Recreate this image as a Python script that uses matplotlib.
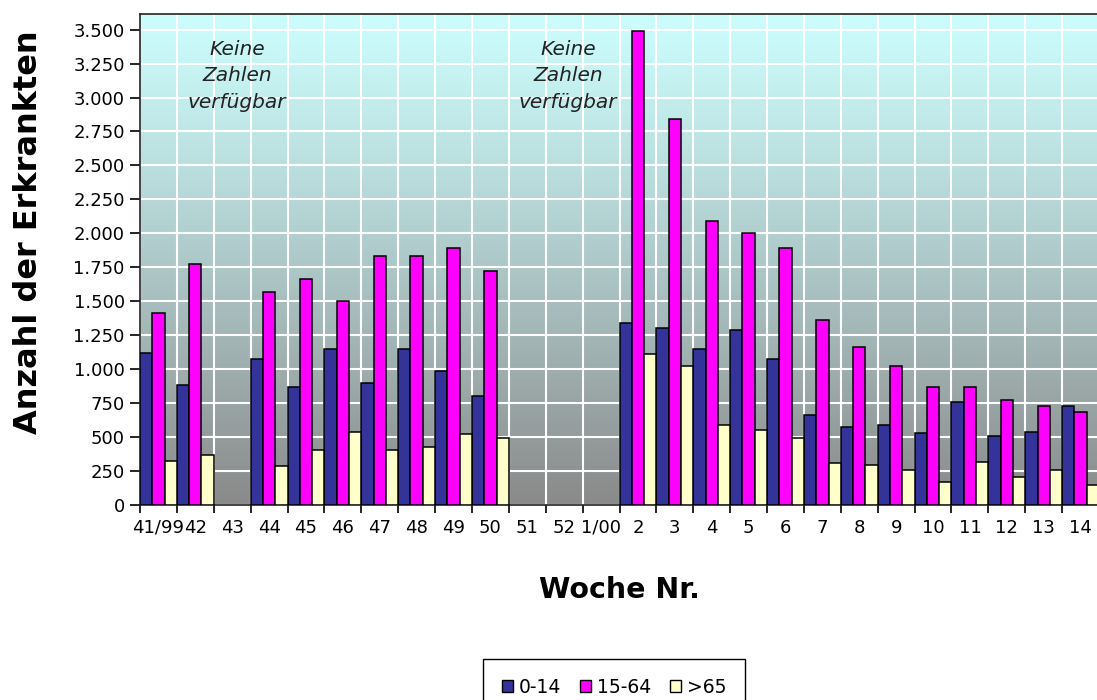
import numpy as np
import matplotlib
matplotlib.use("Agg")
from matplotlib import pyplot as plt
from matplotlib.ticker import FuncFormatter
from matplotlib.patches import Patch

plt.rcParams["font.family"] = ["DejaVu Sans"]

# Kalenderwochen 41/99 bis 14/00
weeks = ["41/99", "42", "43", "44", "45", "46", "47", "48", "49", "50", "51",
         "52", "1/00", "2", "3", "4", "5", "6", "7", "8", "9", "10", "11",
         "12", "13", "14"]
nan = np.nan
age_0_14 = [1117, 884, nan, 1073, 871, 1151, 901, 1151, 989, 805, nan, nan, nan,
            1338, 1306, 1149, 1289, 1073, 665, 577, 589, 528, 761, 510, 540, 729]
age_15_64 = [1411, 1772, nan, 1571, 1662, 1505, 1834, 1834, 1893, 1723, nan, nan, nan,
             3490, 2840, 2094, 2000, 1893, 1362, 1166, 1024, 867, 867, 773, 729, 683]
age_65 = [326, 368, nan, 290, 405, 540, 405, 430, 523, 491, nan, nan, nan,
          1112, 1024, 587, 552, 491, 307, 295, 258, 167, 319, 208, 258, 147]
series = [("0-14", age_0_14, "#333399"),
          ("15-64", age_15_64, "#ff00ff"),
          (">65", age_65, "#ffffcc")]
note = "Keine\nZahlen\nverfügbar"

fig = plt.figure(figsize=(10.97, 7.0), dpi=100)
ax = fig.add_axes([140 / 1097, 195 / 700, 959 / 1097, 491 / 700])

n = len(weeks)
x = np.arange(n)
ymax = 3615
ax.set_xlim(-0.5, n - 0.5)
ax.set_ylim(0, ymax)

# Hintergrund-Verlauf (cyan oben, grau unten)
top = np.array([0.80, 0.99, 0.99])
bottom = np.array([0.54, 0.54, 0.54])
t = np.linspace(0, 1, 256)[:, None] ** 1.15
grad = (top * (1 - t) + bottom * t)[:, None, :]
ax.imshow(grad, extent=[-0.5, n - 0.5, 0, ymax], aspect="auto",
          origin="upper", zorder=0)

w = 1 / 3
for k, (name, vals, col) in enumerate(series):
    vals = np.array(vals, dtype=float)
    ok = np.isfinite(vals)
    ax.bar(x[ok] + (k - 1) * w, vals[ok], width=w, color=col,
           edgecolor="black", linewidth=1.1, zorder=3)

ax.set_yticks(np.arange(0, 3501, 250))
ax.yaxis.set_major_formatter(
    FuncFormatter(lambda v, p: "{:,}".format(int(v)).replace(",", ".")))
ax.set_xticks(x)
ax.set_xticklabels(weeks)
ax.set_xticks(np.arange(-0.5, n, 1), minor=True)
ax.tick_params(axis="x", which="major", length=0, pad=10, labelsize=13)
ax.tick_params(axis="x", which="minor", length=6, width=1.2, direction="out")
ax.tick_params(axis="y", length=7, width=1.2, pad=4, labelsize=13)

ax.grid(True, axis="y", which="major", color="white", linewidth=1.5, zorder=1)
ax.grid(True, axis="x", which="minor", color="white", linewidth=1.5, zorder=1)
ax.set_axisbelow(True)
for s in ax.spines.values():
    s.set_color("#222222")
    s.set_linewidth(1.2)

ax.set_ylabel("Anzahl der Erkrankten", fontsize=23, fontweight="bold")
ax.yaxis.set_label_coords(-0.100, 0.556)
ax.set_xlabel("Woche Nr.", fontsize=20.5, fontweight="bold", labelpad=28)

ax.text(2.13, 3160, note, ha="center", va="center", style="italic",
        fontsize=14.5, linespacing=1.5, color="#222222", zorder=4)
ax.text(11.1, 3160, note, ha="center", va="center", style="italic",
        fontsize=14.5, linespacing=1.5, color="#222222", zorder=4)

handles = [Patch(facecolor=c, edgecolor="black", linewidth=1.0, label=nm)
           for nm, v, c in series]
fig.legend(handles=handles, loc="upper center", bbox_to_anchor=(614 / 1097, 41 / 700),
           ncol=3, fontsize=13.5, frameon=True, fancybox=False, edgecolor="black",
           framealpha=1, handlelength=0.6, handleheight=0.6, handletextpad=0.3,
           columnspacing=1.0, borderpad=1.0, borderaxespad=0)

fig.savefig("out.png", dpi=100, facecolor="white")
